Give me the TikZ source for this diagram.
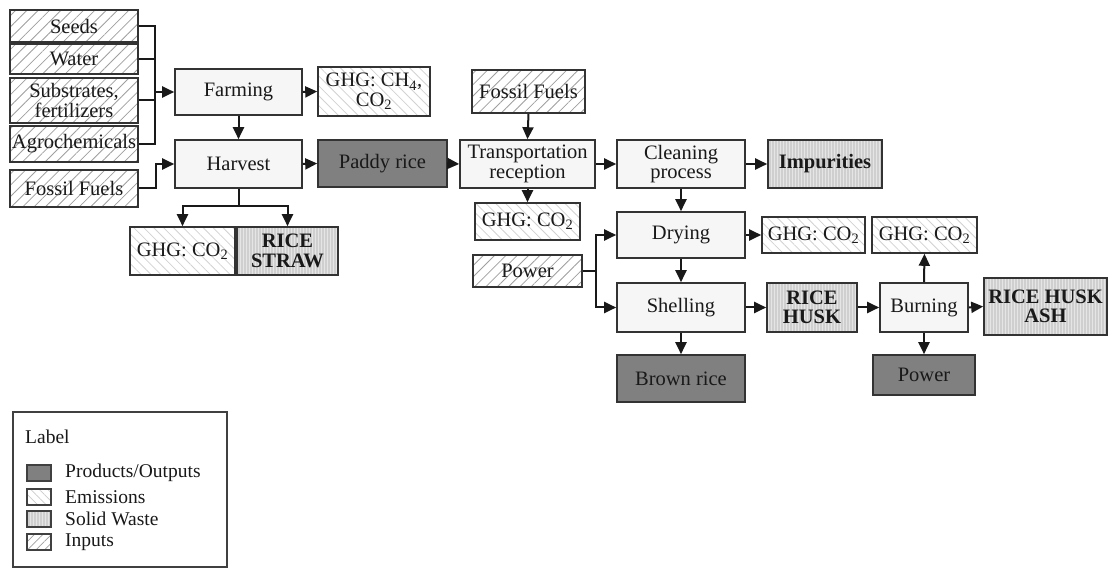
\documentclass[tikz,border=0pt]{standalone}
\usepackage{fontspec}
\setmainfont{Liberation Serif}
\usetikzlibrary{arrows.meta,patterns.meta,calc}
\newcommand\bx[7]{\node[#2, minimum width={(#5-#3)*1pt}, minimum height={(#6-#4)*1pt}] (#1) at ({(#3+#5)/2},{(#4+#6)/2}) {#7};}
\tikzset{
  base/.style={rectangle, draw=black!80, line width=1.6pt, inner sep=0pt, align=center, font=\fontsize{20.5}{19.5}\selectfont, text=black!90},
  proc/.style={base, fill=gray!7},
  inp/.style={base, preaction={fill=white}, preaction={pattern={Lines[angle=45,distance=8pt,line width=0.8pt]}, pattern color=gray!75}},
  emis/.style={base, preaction={fill=white}, preaction={pattern={Lines[angle=-45,distance=7pt,line width=0.8pt]}, pattern color=gray!35}},
  waste/.style={base, preaction={fill=gray!38}, preaction={pattern={Lines[angle=90,distance=3pt,line width=0.4pt]}, pattern color=gray!20}, font=\fontsize{20.5}{19.5}\selectfont\bfseries},
  prod/.style={base, fill=black!50},
  arr/.style={-{Triangle[length=12pt,width=11pt]}, line width=2pt, draw=black!90},
  ln/.style={line width=2pt, draw=black!90},
  legsq/.style={draw=black!75, line width=1.4pt, minimum width=24pt, minimum height=16pt, inner sep=0pt},
  legtx/.style={anchor=west, font=\fontsize{19.5}{19.5}\selectfont, text=black!90, inner sep=0pt}
}
\begin{document}
\begin{tikzpicture}[x=1pt,y=-1pt]
\useasboundingbox (0,0) rectangle (1109,569);
% inputs left
\bx{seeds}{inp}{10}{10}{138}{42}{Seeds}
\bx{water}{inp}{10}{44}{138}{74}{Water}
\bx{subs}{inp}{10}{78}{138}{123}{Substrates,\\fertilizers}
\bx{agro}{inp}{10}{126}{138}{162}{Agrochemicals}
\bx{fos1}{inp}{10}{170}{138}{207}{Fossil Fuels}
% processes
\bx{farm}{proc}{175}{69}{302}{115}{Farming}
\bx{harv}{proc}{175}{140}{302}{188}{Harvest}
\bx{ghg1}{emis}{318}{67}{430}{116}{GHG: CH\textsubscript{4},\\CO\textsubscript{2}}
\bx{paddy}{prod}{318}{140}{447}{187}{Paddy rice}
\bx{ghg2}{emis}{130}{227}{235}{275}{GHG: CO\textsubscript{2}}
\bx{straw}{waste}{237}{227}{338}{275}{RICE\\STRAW}
\bx{fos2}{inp}{472}{70}{585}{113}{Fossil Fuels}
\bx{trans}{proc}{460}{140}{595}{188}{Transportation\\reception}
\bx{ghg3}{emis}{475}{203}{580}{240}{GHG: CO\textsubscript{2}}
\bx{pow1}{inp}{473}{255}{582}{287}{Power}
\bx{clean}{proc}{617}{140}{745}{188}{Cleaning\\process}
\bx{imp}{waste}{768}{140}{882}{188}{Impurities}
\bx{dry}{proc}{617}{212}{745}{258}{Drying}
\bx{ghg4}{emis}{762}{217}{865}{253}{GHG: CO\textsubscript{2}}
\bx{shell}{proc}{617}{283}{745}{332}{Shelling}
\bx{husk}{waste}{767}{283}{857}{332}{RICE\\HUSK}
\bx{burn}{proc}{880}{283}{968}{332}{Burning}
\bx{ghg5}{emis}{872}{217}{977}{253}{GHG: CO\textsubscript{2}}
\bx{ash}{waste}{984}{278}{1107}{335}{RICE HUSK\\ASH}
\bx{brown}{prod}{617}{355}{745}{402}{Brown rice}
\bx{pow2}{prod}{873}{355}{975}{395}{Power}
% connectors left
\coordinate (bk) at (155,92);
\draw[ln] (seeds.east) -- (seeds.east -| bk) -- (agro.east -| bk) -- (agro.east);
\draw[ln] (water.east) -- (water.east -| bk);
\draw[ln] (subs.east) -- (subs.east -| bk);
\draw[arr] (bk) -- (farm.west);
\draw[arr] (fos1.east) -- ++(17,0) |- (harv.west);
\draw[arr] (farm.east) -- (ghg1.west);
\draw[arr] (farm.south) -- (harv.north);
\draw[arr] (harv.east) -- (paddy.west);
\coordinate (hb) at ($(harv.south)+(0,17)$);
\draw[ln] (harv.south) -- (hb);
\draw[arr] (hb) -| (ghg2.north);
\draw[arr] (hb) -| (straw.north);
% middle
\draw[arr] (paddy.east) -- (trans.west);
\draw[arr] (fos2.south) -- (trans.north);
\draw[arr] (trans.south) -- (ghg3.north);
\draw[arr] (trans.east) -- (clean.west);
\draw[arr] (clean.east) -- (imp.west);
\draw[arr] (clean.south) -- (dry.north);
\draw[arr] (dry.south) -- (shell.north);
\draw[arr] (shell.south) -- (brown.north);
\draw[arr] (dry.east) -- (ghg4.west);
\coordinate (pb) at ($(pow1.east)+(13,0)$);
\draw[ln] (pow1.east) -- (pb);
\draw[arr] (pb) |- (dry.west);
\draw[arr] (pb) |- (shell.west);
% right
\draw[arr] (shell.east) -- (husk.west);
\draw[arr] (husk.east) -- (burn.west);
\draw[arr] (burn.east) -- (ash.west);
\draw[arr] (burn.north) -- (ghg5.south);
\draw[arr] (burn.south) -- (pow2.north);
% legend
\draw[draw=black!75, line width=1.4pt] (13,412) rectangle (227,567);
\node[legtx] (lab) at (25,437) {Label};
\node[legsq, fill=black!50] (l1) at (39,473) {};
\node[legsq, preaction={fill=white}, preaction={pattern={Lines[angle=-45,distance=6pt,line width=0.7pt]}, pattern color=gray!40}] (l2) at (39,497) {};
\node[legsq, preaction={fill=gray!38}, preaction={pattern={Lines[angle=90,distance=3pt,line width=0.4pt]}, pattern color=gray!20}] (l3) at (39,519) {};
\node[legsq, preaction={fill=white}, preaction={pattern={Lines[angle=45,distance=6pt,line width=0.7pt]}, pattern color=gray!75}] (l4) at (39,542) {};
\node[legtx] (t1) at (65,473) {Products/Outputs};
\node[legtx] (t2) at (65,497) {Emissions};
\node[legtx] (t3) at (65,519) {Solid Waste};
\node[legtx] (t4) at (65,542) {Inputs};
\end{tikzpicture}
\end{document}
